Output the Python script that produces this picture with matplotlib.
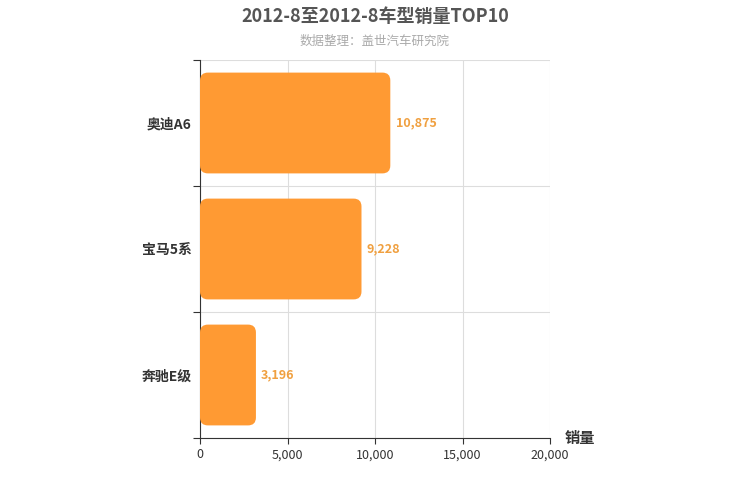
import matplotlib
matplotlib.use("Agg")
import matplotlib.pyplot as plt
from matplotlib.patches import FancyBboxPatch

plt.rcParams['font.family'] = ['Noto Sans CJK SC', 'DejaVu Sans']

categories = ["奥迪A6", "宝马5系", "奔驰E级"]
values = [10875, 9228, 3196]

fig = plt.figure(figsize=(7.5, 5), dpi=100)
ax = fig.add_axes([200/750, 1-438/500, 350/750, 378/500])
ax.set_xlim(0, 20000)
ax.set_ylim(0, 3)
n = len(categories)
ycent = [n - 0.5 - i for i in range(n)]
asp = (3/378)/(20000/350)
h = 0.8
for y, v in zip(ycent, values):
    p = FancyBboxPatch((0, y - h/2), v, h, boxstyle="round,pad=0,rounding_size=450",
                       mutation_aspect=asp, fc="#ff9a33", ec="none", zorder=3)
    ax.add_patch(p)
    ax.text(v + 300, y, f"{v:,}", va="center", ha="left", color="#f0a040",
            fontsize=9, fontweight="bold", zorder=4)
ax.set_yticks([0, 1, 2, 3])
ax.set_yticklabels([])
ax.set_yticks(ycent, minor=True)
ax.set_yticklabels(categories, minor=True, fontsize=10, fontweight="bold", color="#333")
ax.tick_params(axis='y', which='minor', length=0, pad=6)
ax.tick_params(axis='y', which='major', length=5, color="#333")
ax.set_xticks([0, 5000, 10000, 15000, 20000])
ax.set_xticklabels(["0", "5,000", "10,000", "15,000", "20,000"], fontsize=9, color="#333")
ax.tick_params(axis='x', length=4, color="#333")
ax.grid(True, color="#dddddd", linewidth=0.8, zorder=0)
for s in ["top", "right"]:
    ax.spines[s].set_visible(False)
ax.spines["left"].set_color("#333")
ax.spines["bottom"].set_color("#333")
fig.text(0.5, 1-16/500, "2012-8至2012-8车型销量TOP10", ha="center", va="center",
         fontsize=13, fontweight="bold", color="#555")
fig.text(0.5, 1-41/500, "数据整理：盖世汽车研究院", ha="center", va="center",
         fontsize=9, color="#aaa")
fig.text(580/750, 1-438/500, "销量", ha="center", va="center", fontsize=11,
         fontweight="bold", color="#333")
fig.savefig("out.png", dpi=100)
